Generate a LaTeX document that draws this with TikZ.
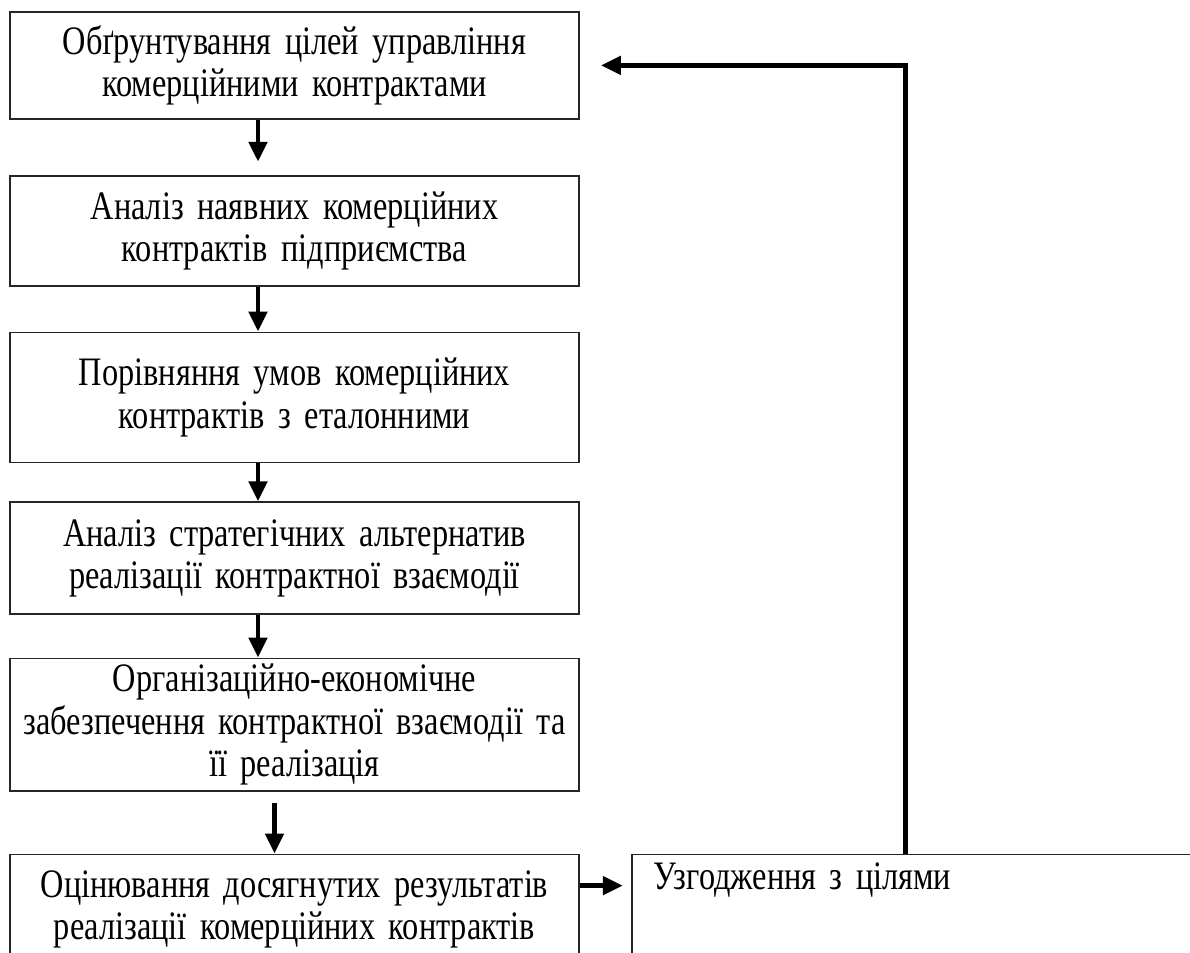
\documentclass[tikz,border=0pt]{standalone}
\usepackage{fontspec}
\setmainfont{Liberation Serif}
\newfontfamily\stagefont[FakeStretch=0.8]{Liberation Serif}
\newcommand\stagetype{\stagefont\fontsize{23}{24}\selectfont\fontdimen2\font=3.8pt\relax}
\usetikzlibrary{positioning,arrows.meta,calc}
\tikzset{
	>={Triangle[length=0.4cm,width=0.36cm]},
	stage/.style={
		rectangle,
		draw=black!85, line width=1pt,
		text width=11.18cm,
		inner xsep=0.1cm,
		minimum height=2.2cm,
		align=center,
		font=\stagetype},
	sidebox/.style={
		rectangle,
		draw=black!85, line width=1pt,
		text width=12cm,
		inner xsep=0.44cm, inner ysep=0.2cm,
		text height=0.5cm, text depth=2cm,
		align=left,
		font=\stagetype},
	link/.style={draw, line width=2.8pt, ->},
}

\begin{document}
\begin{tikzpicture}
	[node distance=0.9cm]
\path[use as bounding box, clip] (0,0) rectangle (23.8,-19.06);

\node[stage, anchor=north, minimum height=2.14cm] (goals) at (5.89,-0.22)
	{Обґрунтування цілей управління\\комерційними контрактами};
\node[stage, below=1.1cm of goals] (review)
	{Аналіз наявних комерційних\\контрактів підприємства};
\node[stage, below=of review, minimum height=2.6cm] (compare)
	{Порівняння умов комерційних\\контрактів з еталонними};
\node[stage, below=0.76cm of compare, minimum height=2.24cm] (options)
	{Аналіз стратегічних альтернатив\\реалізації контрактної взаємодії};
\node[stage, below=0.85cm of options, minimum height=2.58cm] (support)
	{Організаційно-економічне\\забезпечення контрактної взаємодії та\\її реалізація};
\node[stage, below=1.24cm of support] (evaluate)
	{Оцінювання досягнутих результатів\\реалізації комерційних контрактів};
\node[sidebox, right=1.02cm of evaluate.north east, anchor=north west] (match)
	{Узгодження з цілями};

\draw[link, shorten >=0.26cm] ([xshift=-0.73cm]goals.south) -- ([xshift=-0.73cm]goals.south |- review.north);
\draw[link] ([xshift=-0.73cm]review.south) -- ([xshift=-0.73cm]review.south |- compare.north);
\draw[link] ([xshift=-0.73cm]compare.south) -- ([xshift=-0.73cm]compare.south |- options.north);
\draw[link] ([xshift=-0.73cm]options.south) -- ([xshift=-0.73cm]options.south |- support.north);
\draw[link, shorten <=0.22cm] ([xshift=-0.4cm]support.south) -- ([xshift=-0.4cm]support.south |- evaluate.north);
\draw[link, shorten >=0.16cm] ([yshift=-0.64cm]evaluate.north east) -- ([yshift=-0.64cm]evaluate.north east -| match.west);
\draw[link] ([xshift=5.5cm]match.north west) |- ([xshift=0.42cm]goals.east);
\end{tikzpicture}
\end{document}
